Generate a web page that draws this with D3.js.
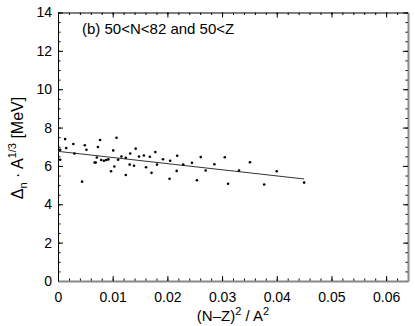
<!DOCTYPE html>
<meta charset="utf-8">
<script src="https://d3js.org/d3.v7.min.js"></script>
<style>
  body { margin: 0; background: #fff; }
  text { font-family: "Liberation Sans", Arial, sans-serif; }
</style>
<div id="chart"></div>
<script>

// data
var xVals = [0.0004, 0.0004, 0.0013, 0.0015, 0.0028, 0.0030, 0.0044, 0.0049, 0.0052, 0.0067,
             0.0069, 0.0071, 0.0073, 0.0077, 0.0079, 0.0084, 0.0088, 0.0092, 0.0097, 0.0101,
             0.0103, 0.0107, 0.0110, 0.0116, 0.0124, 0.0124, 0.0131, 0.0132, 0.0139, 0.0142,
             0.0148, 0.0157, 0.0161, 0.0168, 0.0171, 0.0178, 0.0181, 0.0192, 0.0204, 0.0205,
             0.0217, 0.0218, 0.0229, 0.0245, 0.0254, 0.0261, 0.0270, 0.0286, 0.0305, 0.0311,
             0.0331, 0.0351, 0.0377, 0.0400, 0.0450];
var yVals = [6.84, 6.32, 7.40, 6.93, 7.14, 6.65, 5.18, 7.08, 6.84, 6.18,
             6.18, 6.44, 6.99, 7.35, 6.31, 6.27, 6.31, 6.34, 5.72, 6.81,
             5.97, 7.47, 6.32, 6.49, 6.42, 5.53, 6.07, 6.65, 6.01, 6.90,
             6.49, 6.54, 5.93, 6.48, 5.64, 6.72, 6.07, 6.35, 5.33, 6.27,
             5.74, 6.53, 6.07, 6.16, 5.25, 6.46, 5.76, 6.09, 6.45, 5.07,
             5.76, 6.19, 5.03, 5.72, 5.13];

// fitted line ends
var fitX = [0, 0.0450];
var fitY = [6.76, 5.32];

var xTicks = [0, 0.01, 0.02, 0.03, 0.04, 0.05, 0.06];
var yTicks = [0, 2, 4, 6, 8, 10, 12, 14];

var W = 415, H = 326;
var plot = {left: 58, right: 408, top: 12.5, bottom: 281};

var svg = d3.select("#chart").append("svg")
    .attr("width", W)
    .attr("height", H);

var x = d3.scaleLinear().domain([0, 0.064]).range([plot.left, plot.right]);
var y = d3.scaleLinear().domain([0, 14]).range([plot.bottom, plot.top]);

var xMinor = d3.range(0, 0.064, 0.002);
var yMinor = d3.range(0, 14.01, 0.5);

function styleAxis(g, col, w) {
  g.select(".domain").attr("stroke", col).attr("stroke-width", w);
  g.selectAll(".tick line").attr("stroke", "#000");
  g.selectAll(".tick text").attr("fill", "#000").style("font-size", "14px")
    .style("font-family", "'Liberation Sans', Arial, sans-serif");
}
function minorOnly(g) {
  g.select(".domain").remove();
  g.selectAll(".tick line").attr("stroke", "#000");
}

// minor ticks
svg.append("g").attr("transform", "translate(0," + plot.bottom + ")")
  .call(d3.axisBottom(x).tickValues(xMinor).tickFormat("").tickSize(-2.5).tickSizeOuter(0))
  .call(minorOnly);
svg.append("g").attr("transform", "translate(0," + plot.top + ")")
  .call(d3.axisTop(x).tickValues(xMinor).tickFormat("").tickSize(-2.5).tickSizeOuter(0))
  .call(minorOnly);
svg.append("g").attr("transform", "translate(" + plot.left + ",0)")
  .call(d3.axisLeft(y).tickValues(yMinor).tickFormat("").tickSize(-2.5).tickSizeOuter(0))
  .call(minorOnly);
svg.append("g").attr("transform", "translate(" + plot.right + ",0)")
  .call(d3.axisRight(y).tickValues(yMinor).tickFormat("").tickSize(-2.5).tickSizeOuter(0))
  .call(minorOnly);

// major axes
svg.append("g").attr("transform", "translate(0," + plot.top + ")")
  .call(d3.axisTop(x).tickValues(xTicks).tickFormat("").tickSize(-5).tickSizeOuter(0))
  .call(styleAxis, "#000", 1);
svg.append("g").attr("transform", "translate(" + plot.left + ",0)")
  .call(d3.axisLeft(y).tickValues(yTicks).tickFormat(d3.format("d")).tickSize(-5).tickSizeOuter(0).tickPadding(6))
  .call(styleAxis, "#000", 1);
svg.append("g").attr("transform", "translate(" + plot.right + ",0)")
  .call(d3.axisRight(y).tickValues(yTicks).tickFormat("").tickSize(-5).tickSizeOuter(0))
  .call(styleAxis, "#888", 2);
svg.append("g").attr("transform", "translate(0," + plot.bottom + ")")
  .call(d3.axisBottom(x).tickValues(xTicks).tickFormat(function(d){ return d === 0 ? "0" : d3.format(".2f")(d); })
        .tickSize(-5).tickSizeOuter(0).tickPadding(11))
  .call(styleAxis, "#888", 2);

// fit line
var fit = fitX.map(function(d, i){ return [d, fitY[i]]; });
svg.append("path")
  .datum(fit)
  .attr("d", d3.line().x(function(d){ return x(d[0]); }).y(function(d){ return y(d[1]); }))
  .attr("stroke", "#333")
  .attr("stroke-width", 1)
  .attr("fill", "none");

// points
svg.selectAll("circle.pt")
  .data(xVals.map(function(d, i){ return [d, yVals[i]]; }))
  .enter().append("circle")
    .attr("class", "pt")
    .attr("cx", function(d){ return x(d[0]); })
    .attr("cy", function(d){ return y(d[1]); })
    .attr("r", 1.3)
    .attr("fill", "#000");

// panel label
svg.append("text")
  .attr("x", 82).attr("y", 34)
  .style("font-size", "15px")
  .text("(b) 50<N<82 and 50<Z");

// x title
var xt = svg.append("text")
  .attr("x", 233).attr("y", 321)
  .attr("text-anchor", "middle")
  .style("font-size", "15px");
xt.append("tspan").text("(N\u2013Z)");
xt.append("tspan").attr("dy", -6).style("font-size", "11px").text("2");
xt.append("tspan").attr("dy", 6).text(" / A");
xt.append("tspan").attr("dy", -6).style("font-size", "11px").text("2");

// y title
var yt = svg.append("text")
  .attr("transform", "translate(23,148) rotate(-90)")
  .attr("text-anchor", "middle")
  .style("font-size", "16px");
yt.append("tspan").text("\u0394");
yt.append("tspan").attr("dy", 4).style("font-size", "11px").text("n");
yt.append("tspan").attr("dy", -4).text(" \u00b7 A");
yt.append("tspan").attr("dy", -7).style("font-size", "11px").text("1/3");
yt.append("tspan").attr("dy", 7).text(" [MeV]");

</script>
